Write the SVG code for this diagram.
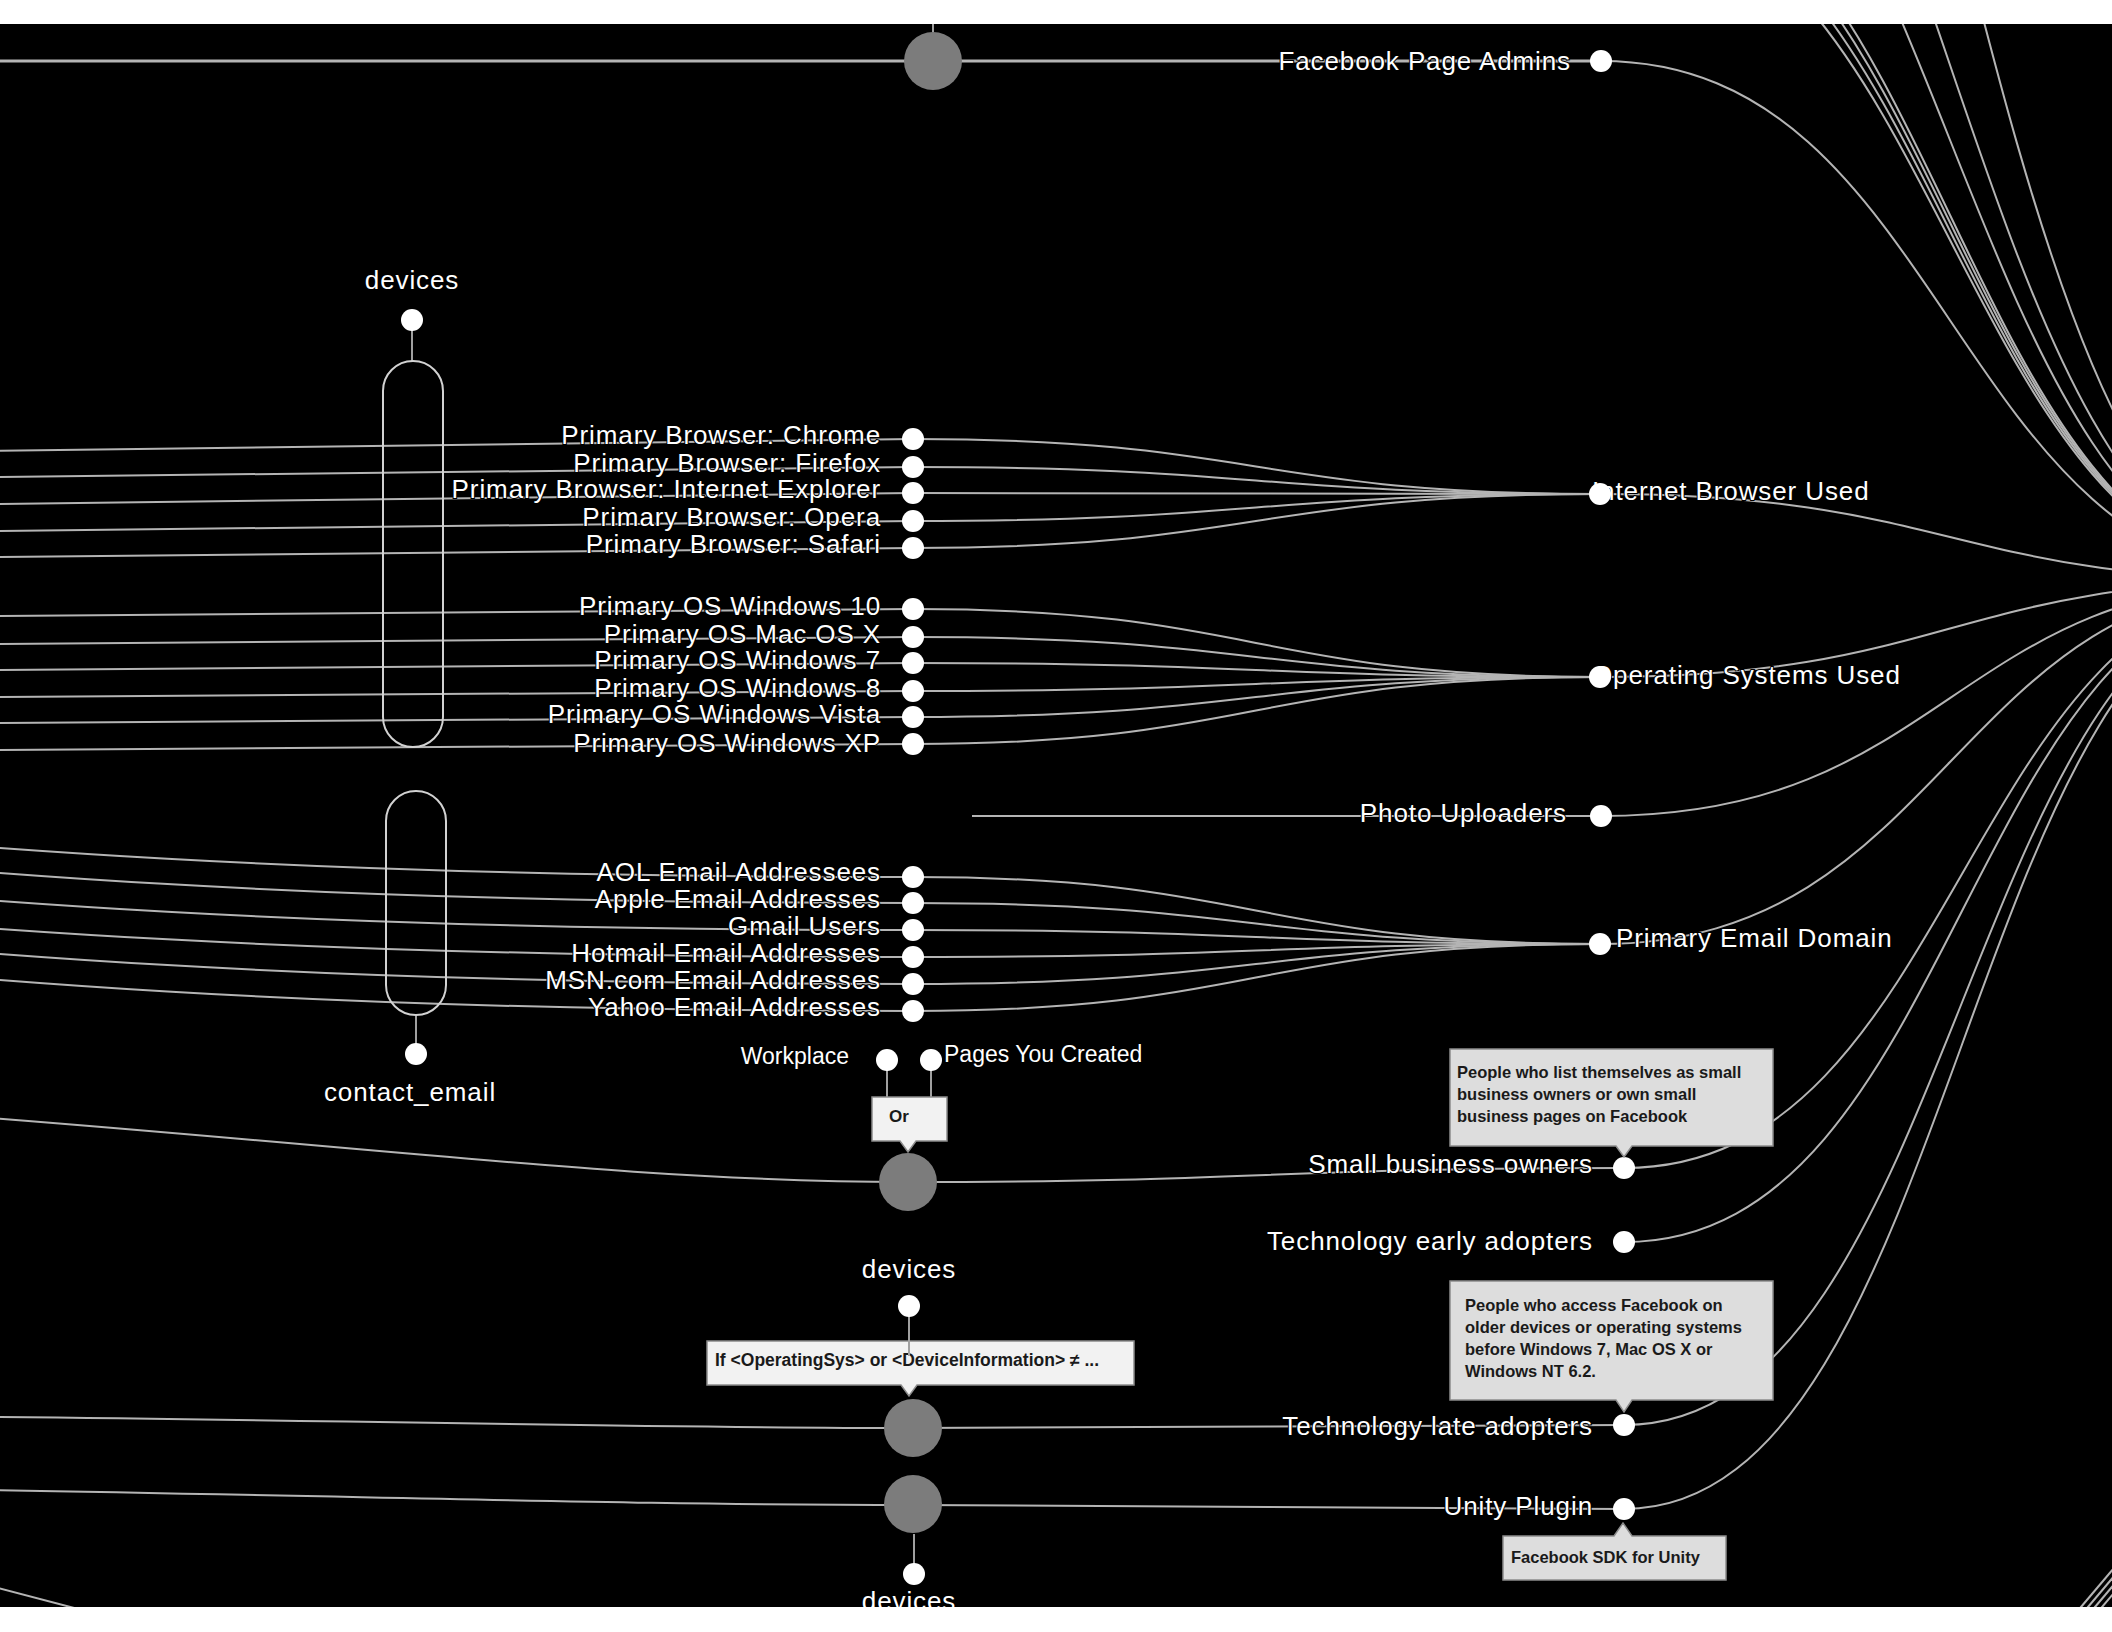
<svg xmlns="http://www.w3.org/2000/svg" width="2112" height="1632" viewBox="0 0 2112 1632">
<style>
.link{fill:none;stroke:#b4b4b4;stroke-width:2}
.thick{stroke-width:3}
.stem{fill:none;stroke:#a0a0a0;stroke-width:2}
.dot{fill:#fff}
.hub{fill:#7c7c7c}
.cap{fill:none;stroke:#d2d2d2;stroke-width:2}
.lbl{font-family:"Liberation Sans",Arial,sans-serif;font-size:26px;letter-spacing:0.9px;fill:#fff;stroke:#000;stroke-width:2;paint-order:stroke}
.sm{font-size:23px;letter-spacing:0}
.end{text-anchor:end}
.mid{text-anchor:middle}
.tip{fill:#dddddd;stroke:#8c8c8c;stroke-width:1.5}
.box{fill:#f2f2f2;stroke:#8c8c8c;stroke-width:1.5}
.tt{font-family:"Liberation Sans",Arial,sans-serif;font-size:16.5px;font-weight:bold;fill:#1a1a1a}
</style>
<rect x="0" y="0" width="2112" height="1632" fill="#000"/>

<g id="node-if-devices">
<path class="box" d="M707,1341 H1134 V1385 H917 L909,1396 L901,1385 H707 Z"/>
<text class="tt" x="715" y="1366" style="font-size:17.5px">If &lt;OperatingSys&gt; or &lt;DeviceInformation&gt; ≠ ...</text>
</g>

<g id="connectors">
<path class="link" d="M-10,451 L913,439"/>
<path class="link" d="M-10,477 L913,467"/>
<path class="link" d="M-10,504 L913,493"/>
<path class="link" d="M-10,531 L913,521"/>
<path class="link" d="M-10,557 L913,548"/>
<path class="link" d="M-10,616 L913,609"/>
<path class="link" d="M-10,644 L913,637"/>
<path class="link" d="M-10,670 L913,663"/>
<path class="link" d="M-10,697 L913,691"/>
<path class="link" d="M-10,723 L913,717"/>
<path class="link" d="M-10,750 L913,744"/>
<path class="link" d="M-1600,760 C-343,760 -343,877 913,877"/>
<path class="link" d="M-1600,782 C-343,782 -343,903 913,903"/>
<path class="link" d="M-1600,813 C-343,813 -343,930 913,930"/>
<path class="link" d="M-1600,844 C-343,844 -343,957 913,957"/>
<path class="link" d="M-1600,863 C-343,863 -343,984 913,984"/>
<path class="link" d="M-1600,886 C-343,886 -343,1011 913,1011"/>
<path class="link thick" d="M-10,61 L1601,61"/>
<path class="link" d="M-10,1118 C400,1150 650,1182 908,1182"/>
<path class="link" d="M-10,1417 C400,1421 650,1428 913,1428"/>
<path class="link" d="M-10,1490 C400,1497 650,1505 913,1505"/>
<path class="link" d="M-40,1578 L120,1620"/>
<path class="link" d="M913,439 C1256,439 1256,494 1600,494"/>
<path class="link" d="M913,467 C1256,467 1256,494 1600,494"/>
<path class="link" d="M913,493 C1256,493 1256,494 1600,494"/>
<path class="link" d="M913,521 C1256,521 1256,494 1600,494"/>
<path class="link" d="M913,548 C1256,548 1256,494 1600,494"/>
<path class="link" d="M913,609 C1256,609 1256,677 1600,677"/>
<path class="link" d="M913,637 C1256,637 1256,677 1600,677"/>
<path class="link" d="M913,663 C1256,663 1256,677 1600,677"/>
<path class="link" d="M913,691 C1256,691 1256,677 1600,677"/>
<path class="link" d="M913,717 C1256,717 1256,677 1600,677"/>
<path class="link" d="M913,744 C1256,744 1256,677 1600,677"/>
<path class="link" d="M913,877 C1256,877 1256,944 1600,944"/>
<path class="link" d="M913,903 C1256,903 1256,944 1600,944"/>
<path class="link" d="M913,930 C1256,930 1256,944 1600,944"/>
<path class="link" d="M913,957 C1256,957 1256,944 1600,944"/>
<path class="link" d="M913,984 C1256,984 1256,944 1600,944"/>
<path class="link" d="M913,1011 C1256,1011 1256,944 1600,944"/>
<path class="link" d="M972,816 L1601,816"/>
<path class="link" d="M908,1182 C1266,1182 1266,1168 1624,1168"/>
<path class="link" d="M913,1428 C1268,1428 1268,1425 1624,1425"/>
<path class="link" d="M913,1505 C1268,1505 1268,1509 1624,1509"/>
<path class="link" d="M1601,61 C1950,61 1950,580 2300,580"/>
<path class="link" d="M1600,494 C1950,494 1950,580 2300,580"/>
<path class="link" d="M1600,677 C1950,677 1950,580 2300,580"/>
<path class="link" d="M1601,816 C1950,816 1950,580 2300,580"/>
<path class="link" d="M1600,944 C1950,944 1950,580 2300,580"/>
<path class="link" d="M1624,1168 C1962,1168 1962,580 2300,580"/>
<path class="link" d="M1624,1242 C1962,1242 1962,580 2300,580"/>
<path class="link" d="M1624,1425 C1962,1425 1962,580 2300,580"/>
<path class="link" d="M1624,1509 C1962,1509 1962,580 2300,580"/>
<path class="link" d="M1600,-100 C1950,-100 1950,580 2300,580"/>
<path class="link" d="M1600,-118 C1950,-118 1950,580 2300,580"/>
<path class="link" d="M1600,-135 C1950,-135 1950,580 2300,580"/>
<path class="link" d="M1600,-150 C1950,-150 1950,580 2300,580"/>
<path class="link" d="M1600,-300 C1950,-300 1950,580 2300,580"/>
<path class="link" d="M1600,-450 C1950,-450 1950,580 2300,580"/>
<path class="link" d="M1600,-800 C1950,-800 1950,580 2300,580"/>
<path class="link" d="M2070,1620 L2125,1555"/>
<path class="link" d="M2077,1620 L2132,1555"/>
<path class="link" d="M2084,1620 L2139,1555"/>
<path class="link" d="M2091,1620 L2146,1555"/>
<path class="stem" d="M933,0 L933,32"/>
<path class="stem" d="M412,320 L412,361"/>
<path class="stem" d="M416,1015 L416,1054"/>
<path class="stem" d="M887,1060 L887,1097"/>
<path class="stem" d="M931,1060 L931,1097"/>
<path class="stem" d="M909,1306 L909,1356"/>
<path class="stem" d="M914,1534 L914,1574"/>
</g>

<g id="node-hub-fb"><circle class="hub" cx="933" cy="61" r="29"/></g>
<g id="node-hub-smallbiz"><circle class="hub" cx="908" cy="1182" r="29"/></g>
<g id="node-hub-late"><circle class="hub" cx="913" cy="1428" r="29"/></g>
<g id="node-hub-unity"><circle class="hub" cx="913" cy="1504" r="29"/></g>

<g id="node-devices-top">
<text class="lbl mid" x="412" y="289">devices</text>
<circle class="dot" cx="412" cy="320" r="11"/>
<rect class="cap" x="383" y="361" width="60" height="386" rx="30"/>
</g>
<g id="node-contact-email">
<rect class="cap" x="386" y="791" width="60" height="224" rx="30"/>
<circle class="dot" cx="416" cy="1054" r="11"/>
<text class="lbl mid" x="410" y="1101">contact_email</text>
</g>

<g id="node-browser-chrome"><text class="lbl end" x="881" y="444">Primary Browser: Chrome</text><circle class="dot" cx="913" cy="439" r="11"/></g>
<g id="node-browser-firefox"><text class="lbl end" x="881" y="472">Primary Browser: Firefox</text><circle class="dot" cx="913" cy="467" r="11"/></g>
<g id="node-browser-ie"><text class="lbl end" x="881" y="498">Primary Browser: Internet Explorer</text><circle class="dot" cx="913" cy="493" r="11"/></g>
<g id="node-browser-opera"><text class="lbl end" x="881" y="526">Primary Browser: Opera</text><circle class="dot" cx="913" cy="521" r="11"/></g>
<g id="node-browser-safari"><text class="lbl end" x="881" y="553">Primary Browser: Safari</text><circle class="dot" cx="913" cy="548" r="11"/></g>

<g id="node-os-win10"><text class="lbl end" x="881" y="615">Primary OS Windows 10</text><circle class="dot" cx="913" cy="609" r="11"/></g>
<g id="node-os-mac"><text class="lbl end" x="881" y="643">Primary OS Mac OS X</text><circle class="dot" cx="913" cy="637" r="11"/></g>
<g id="node-os-win7"><text class="lbl end" x="881" y="669">Primary OS Windows 7</text><circle class="dot" cx="913" cy="663" r="11"/></g>
<g id="node-os-win8"><text class="lbl end" x="881" y="697">Primary OS Windows 8</text><circle class="dot" cx="913" cy="691" r="11"/></g>
<g id="node-os-vista"><text class="lbl end" x="881" y="723">Primary OS Windows Vista</text><circle class="dot" cx="913" cy="717" r="11"/></g>
<g id="node-os-xp"><text class="lbl end" x="881" y="752">Primary OS Windows XP</text><circle class="dot" cx="913" cy="744" r="11"/></g>

<g id="node-email-aol"><text class="lbl end" x="881" y="881">AOL Email Addressees</text><circle class="dot" cx="913" cy="877" r="11"/></g>
<g id="node-email-apple"><text class="lbl end" x="881" y="908">Apple Email Addresses</text><circle class="dot" cx="913" cy="903" r="11"/></g>
<g id="node-email-gmail"><text class="lbl end" x="881" y="935">Gmail Users</text><circle class="dot" cx="913" cy="930" r="11"/></g>
<g id="node-email-hotmail"><text class="lbl end" x="881" y="962">Hotmail Email Addresses</text><circle class="dot" cx="913" cy="957" r="11"/></g>
<g id="node-email-msn"><text class="lbl end" x="881" y="989">MSN.com Email Addresses</text><circle class="dot" cx="913" cy="984" r="11"/></g>
<g id="node-email-yahoo"><text class="lbl end" x="881" y="1016">Yahoo Email Addresses</text><circle class="dot" cx="913" cy="1011" r="11"/></g>

<g id="node-workplace"><text class="lbl sm end" x="849" y="1064">Workplace</text><circle class="dot" cx="887" cy="1060" r="11"/></g>
<g id="node-pages-created"><text class="lbl sm" x="944" y="1062">Pages You Created</text><circle class="dot" cx="931" cy="1060" r="11"/></g>
<g id="node-or">
<path class="box" d="M872,1097 H947 V1141 H916 L908,1152 L900,1141 H872 Z"/>
<text class="tt" x="889" y="1122" style="font-size:17px">Or</text>
</g>

<g id="node-devices-mid"><text class="lbl mid" x="909" y="1278">devices</text><circle class="dot" cx="909" cy="1306" r="11"/></g>
<g id="node-devices-bottom"><circle class="dot" cx="914" cy="1574" r="11"/><text class="lbl mid" x="909" y="1610">devices</text></g>

<g id="node-fb-page-admins"><text class="lbl end" x="1571" y="70">Facebook Page Admins</text><circle class="dot" cx="1601" cy="61" r="11"/></g>
<g id="node-internet-browser"><text class="lbl" x="1592" y="500">Internet Browser Used</text><circle class="dot" cx="1600" cy="494" r="11"/></g>
<g id="node-os-used"><text class="lbl" x="1592" y="684">Operating Systems Used</text><circle class="dot" cx="1600" cy="677" r="11"/></g>
<g id="node-photo"><text class="lbl end" x="1567" y="822">Photo Uploaders</text><circle class="dot" cx="1601" cy="816" r="11"/></g>
<g id="node-email-domain"><circle class="dot" cx="1600" cy="944" r="11"/><text class="lbl" x="1616" y="947">Primary Email Domain</text></g>

<g id="node-small-business">
<text class="lbl end" x="1593" y="1173">Small business owners</text><circle class="dot" cx="1624" cy="1168" r="11"/>
<path class="tip" d="M1450,1049 H1773 V1146 H1632 L1624,1157 L1616,1146 H1450 Z"/>
<text class="tt" x="1457" y="1078">People who list themselves as small</text>
<text class="tt" x="1457" y="1100">business owners or own small</text>
<text class="tt" x="1457" y="1122">business pages on Facebook</text>
</g>
<g id="node-early"><text class="lbl end" x="1593" y="1250">Technology early adopters</text><circle class="dot" cx="1624" cy="1242" r="11"/></g>
<g id="node-late">
<text class="lbl end" x="1593" y="1435">Technology late adopters</text><circle class="dot" cx="1624" cy="1425" r="11"/>
<path class="tip" d="M1450,1281 H1773 V1400 H1632 L1624,1412 L1616,1400 H1450 Z"/>
<text class="tt" x="1465" y="1311">People who access Facebook on</text>
<text class="tt" x="1465" y="1333">older devices or operating systems</text>
<text class="tt" x="1465" y="1355">before Windows 7, Mac OS X or</text>
<text class="tt" x="1465" y="1377">Windows NT 6.2.</text>
</g>
<g id="node-unity">
<text class="lbl end" x="1593" y="1515">Unity Plugin</text><circle class="dot" cx="1624" cy="1509" r="11"/>
<path class="tip" d="M1503,1536 H1614 L1623,1523 L1632,1536 H1726 V1580 H1503 Z"/>
<text class="tt" x="1511" y="1563">Facebook SDK for Unity</text>
</g>

<rect x="0" y="0" width="2112" height="24" fill="#fff"/>
<rect x="0" y="1607" width="2112" height="25" fill="#fff"/>
</svg>
